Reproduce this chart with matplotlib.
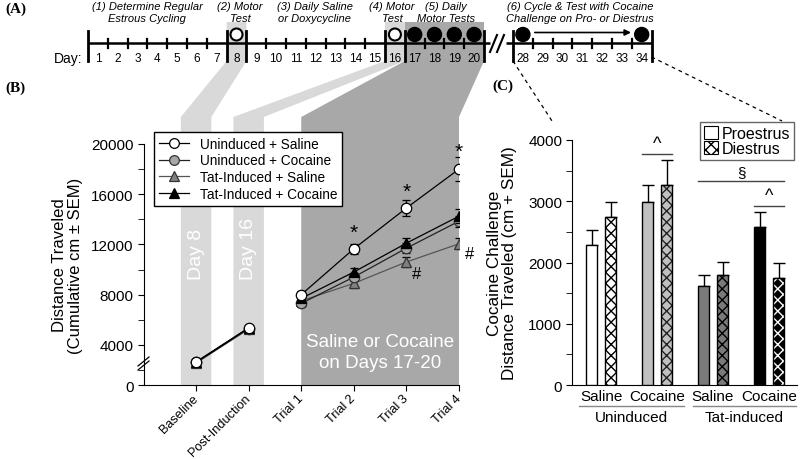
import matplotlib
matplotlib.use('Agg')
import matplotlib.pyplot as plt
from matplotlib.patches import Polygon, Circle, Patch
from matplotlib.lines import Line2D
from matplotlib.ticker import MultipleLocator

plt.rcParams['font.family'] = ['Liberation Sans', 'DejaVu Sans']

# ---------------- Panel B data ----------------
b_categories = ['Baseline', 'Post-Induction', 'Trial 1', 'Trial 2', 'Trial 3', 'Trial 4']
b_series = ['Uninduced + Saline', 'Uninduced + Cocaine', 'Tat-Induced + Saline', 'Tat-Induced + Cocaine']
us_mean = [2650, 5350, 8000, 11650, 14900, 18000]
us_sem = [150, 150, 300, 400, 600, 950]
uc_mean = [2600, 5300, 7300, 9400, 11700, 13850]
uc_sem = [150, 150, 250, 350, 400, 450]
ts_mean = [2550, 5250, 7500, 8900, 10600, 12050]
ts_sem = [150, 150, 250, 350, 400, 450]
tc_mean = [2600, 5350, 7700, 9800, 12100, 14250]
tc_sem = [150, 150, 250, 350, 400, 550]
b_yticks = [800, 4000, 8000, 12000, 16000, 20000]   # bottom tick = zero of the broken axis
b_yticklabels = ['0', '4000', '8000', '12000', '16000', '20000']
star_x = [3, 4, 5]
star_y = [13000, 16250, 19450]
hash_x = [4, 5]
hash_y = [9650, 11250]

# ---------------- Panel C data ----------------
c_groups = ['Saline', 'Cocaine', 'Saline', 'Cocaine']
c_supergroups = ['Uninduced', 'Tat-induced']
proestrus = [2290, 2980, 1620, 2580]
proestrus_sem = [240, 290, 180, 250]
diestrus = [2750, 3270, 1790, 1750]
diestrus_sem = [230, 410, 220, 235]
c_sig_symbols = ['^', '\u00a7', '^']
c_sig_from = [1, 2, 3]
c_sig_to = [1, 3, 3]
c_sig_y = [3770, 3330, 2920]

# ---------------- Timeline data ----------------
tl_days = list(range(1, 21)) + list(range(28, 35))
open_test_days = [8, 16]
filled_test_days = [17, 18, 19, 20, 28, 34]
tl_notes = ['(1) Determine Regular\nEstrous Cycling', '(2) Motor\nTest',
            '(3) Daily Saline\nor Doxycycline', '(4) Motor\nTest',
            '(5) Daily\nMotor Tests', '(6) Cycle & Test with Cocaine\nChallenge on Pro- or Diestrus']
tl_note_x = [147, 240, 315, 392, 446, 580]

W, H = 800, 460
fig = plt.figure(figsize=(8, 4.6), dpi=100)
bg = fig.add_axes([0, 0, 1, 1], zorder=0)
bg.set_xlim(0, W)
bg.set_ylim(H, 0)
bg.axis('off')


def px_axes(l, t, r, b):
    return [l / W, 1 - b / H, (r - l) / W, (b - t) / H]


axB = fig.add_axes(px_axes(143.5, 145, 459, 386), zorder=2)
axB.patch.set_visible(False)
axC = fig.add_axes(px_axes(572, 141, 797, 386), zorder=2)
axC.patch.set_visible(False)

axB.set_xlim(-1, 5)
axB.set_ylim(800, 20000)
axC.set_xlim(-0.52, 3.5)
axC.set_ylim(0, 4000)


def to_px(ax, x, y):
    d = ax.transData.transform((x, y))
    return bg.transData.inverted().transform(d)


def day_x(d):
    if d <= 21:
        return 88 + 19.8 * (d - 1)
    return 513 + 19.8 * (d - 28)


light = '#d9d9d9'
dark = '#a8a8a8'
ybot = to_px(axB, 0, 800)[1]
top_box = 23
mid_y = 62
band_top = 118

# dark band (days 17-20 -> trials)
xl = to_px(axB, 2, 800)[0]
xr = to_px(axB, 5, 800)[0]
bg.add_patch(Polygon([(day_x(17), top_box), (day_x(21), top_box), (day_x(21), mid_y),
                      (xr, band_top), (xr, ybot), (xl, ybot), (xl, band_top),
                      (day_x(17), mid_y)], closed=True, fc=dark, ec='none', zorder=1))
# light bands day 8 and day 16
for day, cat in zip(open_test_days, [0, 1]):
    cl = to_px(axB, cat - 0.29, 800)[0]
    cr = to_px(axB, cat + 0.29, 800)[0]
    bg.add_patch(Polygon([(day_x(day), top_box), (day_x(day + 1), top_box), (day_x(day + 1), mid_y),
                          (cr, band_top), (cr, ybot), (cl, ybot), (cl, band_top),
                          (day_x(day), mid_y)], closed=True, fc=light, ec='none', zorder=1))

# timeline
ly = 44
bg.plot([day_x(1), 490], [ly, ly], color='k', lw=1.8, zorder=3, solid_capstyle='butt')
bg.plot([506, day_x(35)], [ly, ly], color='k', lw=1.8, zorder=3, solid_capstyle='butt')
big = [1, 8, 9, 16, 17, 21, 28, 35]
for d in big:
    bg.plot([day_x(d), day_x(d)], [32, 62], color='k', lw=2, zorder=3)
for d in list(range(2, 8)) + list(range(10, 16)) + list(range(18, 21)) + list(range(29, 35)):
    bg.plot([day_x(d), day_x(d)], [39.5, 48.5], color='k', lw=1.6, zorder=3)
for x0 in (490, 497):
    bg.plot([x0, x0 + 7], [53, 36], color='k', lw=1.5, zorder=3)
for d in tl_days:
    bg.text(day_x(d) + 9.9, 59, str(d), ha='center', va='center', fontsize=8.5, zorder=4)
bg.text(82, 59, 'Day:', ha='right', va='center', fontsize=10, zorder=4)
for d in open_test_days:
    bg.add_patch(Circle((day_x(d) + 9.9, 35.5), 6, fc='white', ec='k', lw=1.5, zorder=4))
for d in filled_test_days:
    bg.add_patch(Circle((day_x(d) + 9.9, 35.5), 7, fc='k', ec='k', lw=1, zorder=4))
bg.annotate('', xy=(day_x(34) + 2, 33.5), xytext=(day_x(28) + 19, 33.5),
            arrowprops=dict(arrowstyle='-|>', color='k', lw=1.2, mutation_scale=9), zorder=4)
for txt, x in zip(tl_notes, tl_note_x):
    bg.text(x, 13, txt, ha='center', va='center', fontsize=8, style='italic',
            linespacing=1.15, zorder=4)

# dashed connectors to panel C
bg.plot([day_x(28), 552], [62, 122], color='k', lw=0.9, ls=(0, (3, 3)), zorder=3)
bg.plot([day_x(35), 782], [58, 122], color='k', lw=0.9, ls=(0, (3, 3)), zorder=3)

# panel labels
for lab, x, y in [('(A)', 5, 9), ('(B)', 5, 88), ('(C)', 492, 86)]:
    bg.text(x, y, lab, ha='left', va='center', fontsize=11, fontweight='bold',
            family=['Liberation Serif', 'DejaVu Serif'], zorder=4)

# ---------------- Panel B ----------------
styles = [
    dict(mean=us_mean, sem=us_sem, marker='o', mfc='white', mec='k', color='k', ms=7.5, z=8),
    dict(mean=uc_mean, sem=uc_sem, marker='o', mfc='#a6a6a6', mec='#333333', color='#222222', ms=7.5, z=6),
    dict(mean=ts_mean, sem=ts_sem, marker='^', mfc='#808080', mec='#333333', color='#555555', ms=7.5, z=5),
    dict(mean=tc_mean, sem=tc_sem, marker='^', mfc='k', mec='k', color='k', ms=7.5, z=7),
]
xpos = list(range(len(b_categories)))
handles = []
for s, name in zip(styles, b_series):
    for sl in (slice(0, 2), slice(2, 6)):
        axB.errorbar(xpos[sl], s['mean'][sl], yerr=s['sem'][sl], color=s['color'], lw=0.9,
                     marker=s['marker'], mfc=s['mfc'], mec=s['mec'], ms=s['ms'], mew=0.9,
                     ecolor='k', elinewidth=0.9, capsize=3, capthick=0.9, zorder=s['z'])
    handles.append(Line2D([0], [0], color=s['color'], lw=0.9, marker=s['marker'], mfc=s['mfc'],
                          mec=s['mec'], ms=7, mew=0.9))

for x, y in zip(star_x, star_y):
    axB.text(x, y, '*', ha='center', va='center', fontsize=15, zorder=9)
for x, y in zip(hash_x, hash_y):
    axB.text(x + 0.2, y, '#', ha='center', va='center', fontsize=12, zorder=9)

axB.text(0, 9250, 'Day 8', rotation=90, rotation_mode='anchor', ha='left', va='center',
         color='white', fontsize=14)
axB.text(1, 9250, 'Day 16', rotation=90, rotation_mode='anchor', ha='left', va='center',
         color='white', fontsize=14)
axB.text(3.5, 3450, 'Saline or Cocaine\non Days 17-20', ha='center', va='center',
         color='white', fontsize=13.5, linespacing=1.3)

for sp in ('top', 'right'):
    axB.spines[sp].set_visible(False)
axB.set_xticks(xpos)
axB.set_xticklabels(b_categories, rotation=45, ha='right', va='center',
                    rotation_mode='anchor', fontsize=9.2)
axB.set_yticks(b_yticks)
axB.set_yticklabels(b_yticklabels, fontsize=11)
axB.yaxis.set_minor_locator(MultipleLocator(2000))
axB.tick_params(axis='y', which='major', length=4, direction='out', pad=3)
axB.tick_params(axis='y', which='minor', length=4, direction='out')
axB.tick_params(axis='x', length=4, direction='out', pad=4)
axB.set_ylabel('Distance Traveled\n(Cumulative cm \u00b1 SEM)', fontsize=12, labelpad=6,
               linespacing=1.1)
# axis break marks
bg.add_patch(Polygon([(138, 367), (149, 358), (149, 362), (138, 371)], closed=True,
                     fc='white', ec='none', zorder=5))
bg.plot([138, 149], [367, 358], color='k', lw=0.9, zorder=6)
bg.plot([138, 149], [371, 362], color='k', lw=0.9, zorder=6)

legB = axB.legend(handles, b_series, loc='upper left', bbox_to_anchor=(154 / W, 1 - 133 / H),
                  bbox_transform=fig.transFigure, borderaxespad=0, fancybox=False,
                  edgecolor='k', framealpha=1, fontsize=9.8, labelspacing=0.2,
                  handlelength=2.2, handletextpad=0.8, borderpad=0.35)
legB.get_frame().set_linewidth(1)
legB.set_zorder(20)

# ---------------- Panel C ----------------
bar_colors = ['white', '#c0c0c0', '#7a7a7a', 'black']
hatch_colors = ['black', '#222222', 'black', 'white']
bw = 0.205
off = 0.17
gx = list(range(len(c_groups)))
for i in gx:
    axC.bar(i - off, proestrus[i], width=bw, color=bar_colors[i], edgecolor='k', lw=1, zorder=3)
    axC.bar(i + off, diestrus[i], width=bw, color=bar_colors[i], edgecolor=hatch_colors[i],
            hatch='xxx', lw=0, zorder=3)
    axC.bar(i + off, diestrus[i], width=bw, fill=False, edgecolor='k', lw=1, zorder=4)
axC.errorbar([i - off for i in gx], proestrus, yerr=[[0] * 4, proestrus_sem], fmt='none',
             ecolor='k', elinewidth=1, capsize=4, capthick=1, zorder=2)
axC.errorbar([i + off for i in gx], diestrus, yerr=[[0] * 4, diestrus_sem], fmt='none',
             ecolor='k', elinewidth=1, capsize=4, capthick=1, zorder=2)

for sym, a, b, y in zip(c_sig_symbols, c_sig_from, c_sig_to, c_sig_y):
    x0 = a - off - bw / 2
    x1 = b + off + bw / 2
    axC.plot([x0, x1], [y, y], color='#444444', lw=1, clip_on=False)
    axC.text((x0 + x1) / 2, y + 40, sym, ha='center', va='bottom', fontsize=13 if sym == '^' else 11,
             clip_on=False)

for sp in ('top', 'right'):
    axC.spines[sp].set_visible(False)
axC.set_yticks([0, 1000, 2000, 3000, 4000])
axC.set_yticklabels(['0', '1000', '2000', '3000', '4000'], fontsize=11)
axC.yaxis.set_minor_locator(MultipleLocator(500))
axC.tick_params(axis='y', which='both', length=4, direction='out', pad=3)
axC.set_xticks(gx)
axC.set_xticklabels(c_groups, fontsize=11)
axC.tick_params(axis='x', length=0, pad=3)
axC.set_ylabel('Cocaine Challenge\nDistance Traveled (cm + SEM)', fontsize=12.3, labelpad=8,
               linespacing=1.05)
tr = axC.get_xaxis_transform()
for (lo, hi), name in zip([(-0.39, 1.48), (1.64, 3.48)], c_supergroups):
    axC.plot([lo, hi], [-0.086, -0.086], color='#888888', lw=1, transform=tr, clip_on=False)
    axC.text((lo + hi) / 2, -0.13, name, ha='center', va='center', fontsize=11,
             transform=tr, clip_on=False)

legC = axC.legend([Patch(fc='white', ec='k', lw=0.8), Patch(fc='white', ec='k', lw=0.8, hatch='xxx')],
                  ['Proestrus', 'Diestrus'], loc='upper right',
                  bbox_to_anchor=(794 / W, 1 - 123 / H), bbox_transform=fig.transFigure,
                  borderaxespad=0, fancybox=False, edgecolor='#666666', framealpha=1,
                  fontsize=11.5, labelspacing=0.0, handlelength=0.9, handleheight=0.9,
                  handletextpad=0.2, borderpad=0.25)
legC.get_frame().set_linewidth(1)

fig.savefig('out.png', dpi=100)
